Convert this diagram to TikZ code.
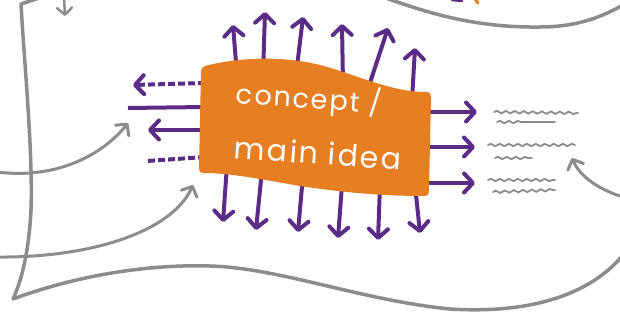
\documentclass[tikz,border=0pt]{standalone}
\usepackage{fontspec}
\newfontfamily\handfont[LetterSpace=7]{Poppins}
\usetikzlibrary{arrows.meta,decorations.pathmorphing}
\definecolor{pur}{HTML}{5B2C86}
\definecolor{org}{HTML}{E67E22}
\definecolor{gry}{HTML}{8C8C8C}
\begin{document}
\begin{tikzpicture}[x=1pt,y=-1pt,
  frame/.style={draw=gry,line width=3.5pt,line cap=round,line join=round},
  garrow/.style={draw=gry,line width=3pt,line cap=round,-{Straight Barb[length=8pt,width=17pt,round]}},
  ptip/.style={-{Straight Barb[length=9pt,width=19pt,round]}},
  pline/.style={draw=pur,line width=4pt},
  parrow/.style={pline,line cap=round,ptip},
  pdash/.style={pline,dash pattern=on 7pt off 3pt},
  scrib/.style={draw=gry,line width=1.8pt,line cap=round,decorate,decoration={snake,segment length=9pt,amplitude=1.2pt}},
  hand/.style={text=white,rotate=-4,inner sep=0pt}]
\useasboundingbox (0,0) rectangle (620,320);
\fill[white] (0,0) rectangle (620,320);
% paper frame
\draw[frame] (42,-3) -- (21,4) .. controls (24,60) and (33,150) .. (31,210) .. controls (29,250) and (22,280) .. (13,299)
  .. controls (70,278) and (140,264) .. (210,266) .. controls (280,268) and (360,300) .. (450,309)
  .. controls (530,314) and (590,295) .. (623,255);
\draw[frame] (383,-3) .. controls (420,10) and (470,28) .. (540,27) .. controls (580,27) and (605,15) .. (623,5);
% cut-off marks at the top
\draw[pur,line width=2.5pt,line cap=round] (452,0) -- (462,1);
\draw[org,line width=3pt,line cap=round] (474,-2) -- (478,3);
% grey arrows
\draw[garrow,line width=2.5pt,-{Straight Barb[length=7pt,width=15pt,round]}] (64,-3) -- (65,16);
\draw[garrow] (-3,172) .. controls (60,180) and (105,152) .. (128,123);
\draw[garrow] (-3,257) .. controls (90,258) and (172,232) .. (193,185);
\draw[garrow] (623,197) .. controls (600,190) and (580,177) .. (572,158);
% purple arrows up
\draw[parrow] (237,75) -- (233,25);
\draw[parrow] (263,75) -- (265,12);
\draw[parrow] (296,75) -- (303,17);
\draw[parrow] (343,85) -- (342,24);
\draw[parrow] (366,95) -- (388,28);
\draw[parrow] (412,100) -- (415,48);
% purple arrows down
\draw[parrow] (227,165) -- (223,222);
\draw[parrow] (262,170) -- (256,230);
\draw[parrow] (303,175) -- (298,232);
\draw[parrow] (342,185) -- (338,238);
\draw[parrow] (380,185) -- (378,240);
\draw[parrow] (415,185) -- (420,233);
% purple left
\draw[pdash,ptip] (205,83) -- (133,85);
\draw[pline] (205,107) -- (128,108);
\draw[pline,ptip] (205,130) -- (148,130);
\draw[pdash] (205,157) -- (147,161);
% purple right
\draw[parrow] (420,112) -- (477,112);
\draw[parrow] (420,147) -- (475,147);
\draw[parrow] (420,183) -- (475,183);
% orange flag
\fill[org] (205,66) .. controls (235,58) and (280,55) .. (320,65) .. controls (355,74) and (390,92) .. (426,92)
  .. controls (430,92) and (431,94) .. (431,97) -- (429,192) .. controls (429,195) and (427,196) .. (424,196)
  .. controls (380,196) and (340,192) .. (300,186) .. controls (260,179) and (230,173) .. (203,173)
  .. controls (200,173) and (199,171) .. (199,168) -- (201,71) .. controls (201,68) and (203,67) .. (205,66) -- cycle;
\node[hand,font=\handfont\fontsize{27}{27}\selectfont] (c1) at (309,99) {concept /};
\node[hand,font=\handfont\fontsize{30}{30}\selectfont] (c2) at (318,153) {main idea};
% grey scribbles
\draw[scrib] (494,112) -- (578,113);
\draw[scrib] (497,122) -- (525,122);
\draw[gry,line width=1.8pt,line cap=round] (525,122) -- (555,122);
\draw[scrib] (488,145) -- (575,145);
\draw[scrib] (495,158) -- (532,158);
\draw[scrib] (488,180) -- (555,180);
\draw[scrib] (493,192) -- (555,190);
\end{tikzpicture}
\end{document}
